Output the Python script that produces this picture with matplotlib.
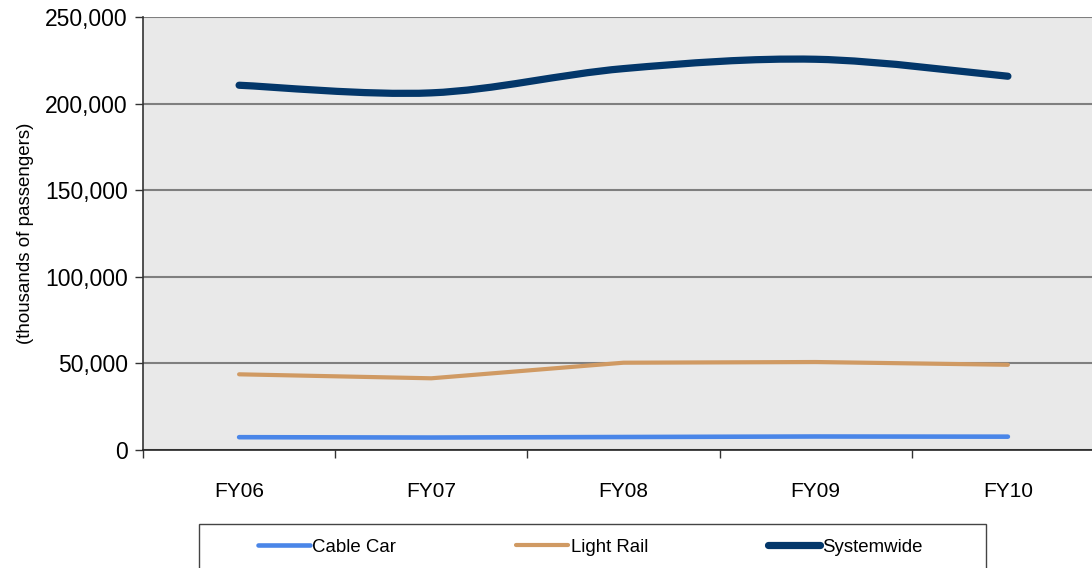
import matplotlib
matplotlib.use("Agg")
import matplotlib.pyplot as plt
import numpy as np
from matplotlib.path import Path
from matplotlib.patches import PathPatch, Rectangle
from matplotlib.lines import Line2D
from matplotlib.ticker import FuncFormatter, FixedLocator

plt.rcParams["font.family"] = ["Liberation Sans", "DejaVu Sans"]

# ----------------------------------------
# Data (thousands of passengers)
# ----------------------------------------
years = ["FY06", "FY07", "FY08", "FY09", "FY10"]
cable_car = [7400, 7200, 7500, 7800, 7700]
light_rail = [43700, 41400, 50400, 50800, 49200]
systemwide = [210600, 206200, 220200, 225600, 215800]

# ----------------------------------------
# Colours
# ----------------------------------------
cable_blue = '#4A86E8'
rail_tan = '#D09A63'
system_navy = '#03376A'
panel_grey = '#E9E9E9'
grid_grey = '#7F7F7F'

lw_cable, lw_rail, lw_sys = 3.3, 3.0, 5.2


def SmoothPath(xs, ys):
    # Excel style smoothed line: cubic bezier through each point
    pts = np.column_stack([xs, ys]).astype(float)
    n = len(pts)
    verts = [pts[0]]
    codes = [Path.MOVETO]
    for i in range(n - 1):
        p0 = pts[max(i - 1, 0)]
        p1 = pts[i]
        p2 = pts[i + 1]
        p3 = pts[min(i + 2, n - 1)]
        c1 = p1 + (p2 - p0) / 6.0
        c2 = p2 - (p3 - p1) / 6.0
        verts += [c1, c2, p2]
        codes += [Path.CURVE4] * 3
    return Path(verts, codes)


fig = plt.figure(figsize=(10.92, 5.68), dpi=100)
ax = fig.add_axes([143 / 1092, 1 - 450 / 568, 961 / 1092, 433 / 568])
ax.set_facecolor(panel_grey)

x = np.arange(len(years))

ax.plot(x, cable_car, color=cable_blue, lw=lw_cable, solid_capstyle='round', zorder=3)
ax.plot(x, light_rail, color=rail_tan, lw=lw_rail, solid_capstyle='round', zorder=3)
sys_patch = PathPatch(SmoothPath(x, systemwide), facecolor='none', edgecolor=system_navy,
                      lw=lw_sys, capstyle='round', zorder=4)
ax.add_patch(sys_patch)

ax.set_xlim(-0.5, 4.5)
ax.set_ylim(0, 250000)

ax.set_yticks(np.arange(0, 250001, 50000))
ax.yaxis.set_major_formatter(FuncFormatter(lambda v, p: f"{int(v):,}"))
ax.grid(axis='y', color=grid_grey, lw=1.5, zorder=1)
ax.set_axisbelow(True)

ax.xaxis.set_major_locator(FixedLocator(np.arange(-0.5, 5.0, 1.0)))
ax.xaxis.set_minor_locator(FixedLocator(x))
ax.set_xticklabels([])
ax.set_xticklabels(years, minor=True)
ax.tick_params(axis='x', which='major', length=6, width=1, color='#333333', direction='out')
ax.tick_params(axis='x', which='minor', length=0, pad=23, labelsize=15)
ax.tick_params(axis='y', length=6, width=1, color='#333333', labelsize=16.5, pad=5)

ax.spines['top'].set_visible(False)
ax.spines['right'].set_visible(False)
ax.spines['left'].set_color('#333333')
ax.spines['bottom'].set_color('#222222')
ax.spines['left'].set_linewidth(1.2)
ax.spines['bottom'].set_linewidth(1.2)

ax.set_ylabel("(thousands of passengers)", fontsize=13.5)
ax.yaxis.set_label_coords(-0.1135, 0.5)

# ----------------------------------------
# Legend box at the bottom
# ----------------------------------------
fig.patches.append(Rectangle((199 / 1092, -0.05), (986 - 199) / 1092, 0.05 + (568 - 524) / 568,
                             transform=fig.transFigure, facecolor='white',
                             edgecolor='#444444', lw=1.0))
handles = [Line2D([], [], color=cable_blue, lw=lw_cable, solid_capstyle='round'),
           Line2D([], [], color=rail_tan, lw=lw_rail, solid_capstyle='round'),
           Line2D([], [], color=system_navy, lw=lw_sys, solid_capstyle='round')]
fig.legend(handles, ["Cable Car", "Light Rail", "Systemwide"], ncol=3, frameon=False,
           loc='center left', bbox_to_anchor=(258 / 1092, 1 - 547 / 568),
           fontsize=13.4, handlelength=2.8, handletextpad=0.12, columnspacing=6.45,
           borderaxespad=0, borderpad=0)

fig.savefig("out.png", dpi=100)
